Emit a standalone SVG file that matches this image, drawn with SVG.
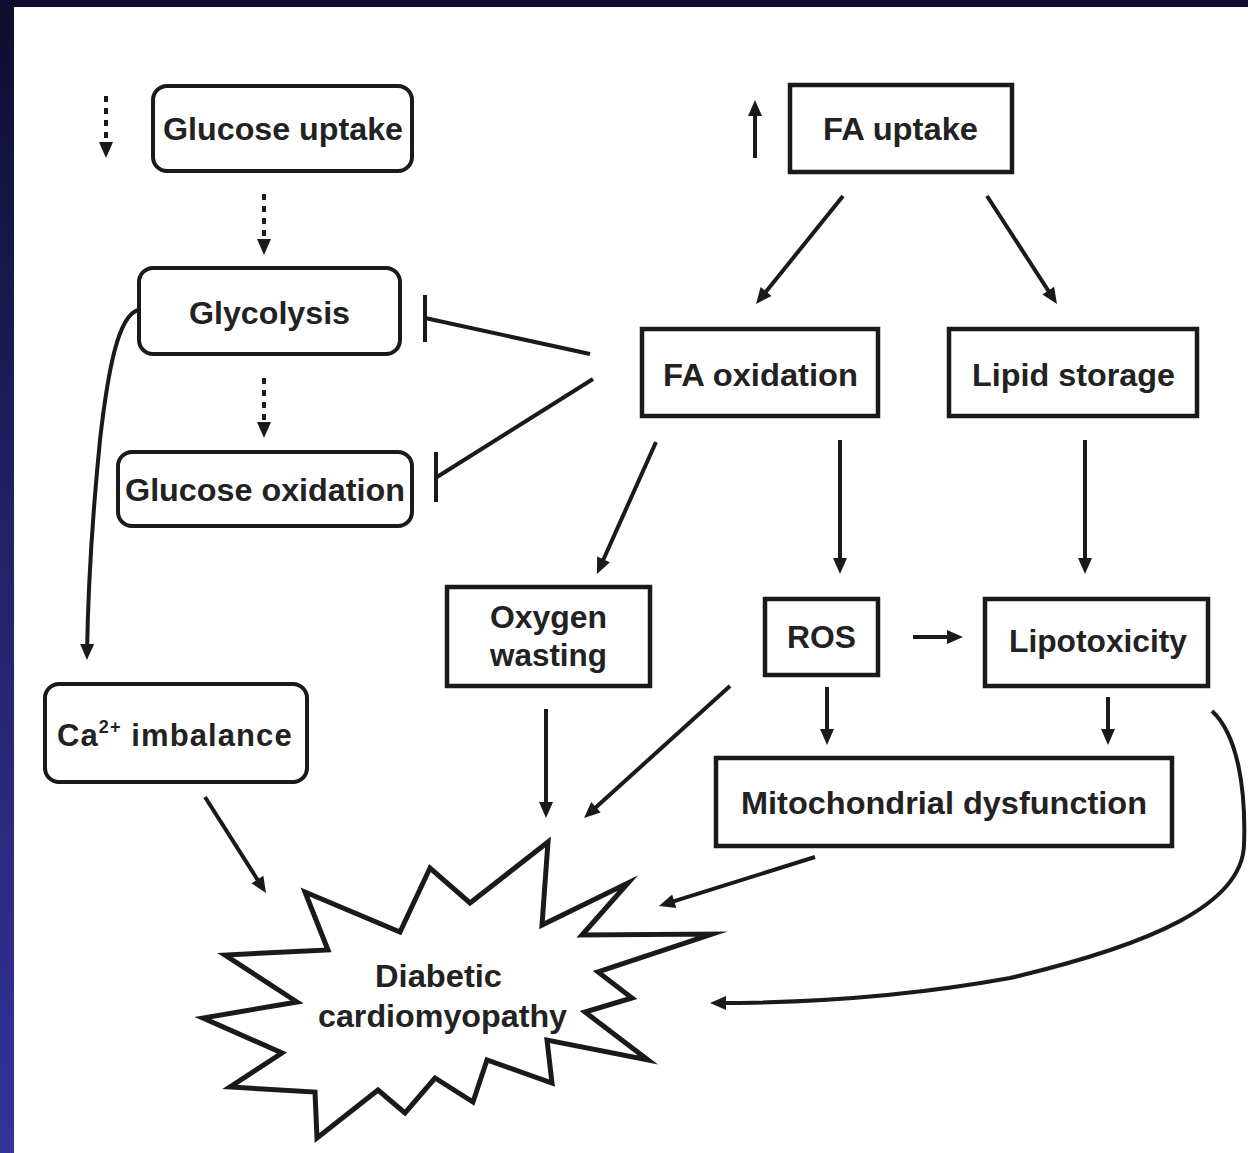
<svg xmlns="http://www.w3.org/2000/svg" width="1248" height="1153" viewBox="0 0 1248 1153">
<defs>
<linearGradient id="sideGrad" x1="0" y1="0" x2="0" y2="1">
<stop offset="0" stop-color="#0e0e30"/>
<stop offset="0.5" stop-color="#23236a"/>
<stop offset="1" stop-color="#333399"/>
</linearGradient>
<marker id="arrow" markerUnits="userSpaceOnUse" markerWidth="17" markerHeight="15" refX="10" refY="7" orient="auto" overflow="visible">
<path d="M0,0 L16,7 L0,14 z" fill="#1a1a1a"/>
</marker>
<style>
.box{fill:#fff;stroke:#1a1a1a;stroke-width:4.5}
.rbox{fill:#fff;stroke:#1a1a1a;stroke-width:4}
.lbl{font-family:"Liberation Sans",Arial,sans-serif;font-weight:bold;font-size:31px;fill:#222}
.conn{fill:none;stroke:#1a1a1a;stroke-width:4}
.dot{fill:none;stroke:#1a1a1a;stroke-width:4;stroke-dasharray:6 6}
</style>
</defs>
<rect x="0" y="0" width="1248" height="1153" fill="#fff"/>
<rect x="0" y="0" width="1248" height="7" fill="#0e0e30"/>
<rect x="0" y="0" width="14" height="1153" fill="url(#sideGrad)"/>

<g id="glucose-uptake">
<rect class="rbox" x="153" y="86" width="259" height="85" rx="14"/>
<text class="lbl" x="163" y="140" textLength="240" lengthAdjust="spacingAndGlyphs">Glucose uptake</text>
</g>
<g id="glycolysis">
<rect class="rbox" x="139" y="268" width="261" height="86" rx="14"/>
<text class="lbl" x="189" y="324" textLength="161" lengthAdjust="spacingAndGlyphs">Glycolysis</text>
</g>
<g id="glucose-oxidation">
<rect class="rbox" x="118" y="452" width="294" height="74" rx="14"/>
<text class="lbl" x="125" y="501" textLength="280" lengthAdjust="spacingAndGlyphs">Glucose oxidation</text>
</g>
<g id="ca-imbalance">
<rect class="rbox" x="45" y="684" width="262" height="98" rx="14"/>
<text class="lbl" x="57" y="746" letter-spacing="1.1">Ca<tspan font-size="18" dy="-13">2+</tspan><tspan dy="13"> imbalance</tspan></text>
</g>
<g id="fa-uptake">
<rect class="box" x="790" y="85" width="222" height="87"/>
<text class="lbl" x="823" y="140" textLength="155" lengthAdjust="spacingAndGlyphs">FA uptake</text>
</g>
<g id="fa-oxidation">
<rect class="box" x="642" y="329" width="236" height="87"/>
<text class="lbl" x="663" y="386" textLength="195" lengthAdjust="spacingAndGlyphs">FA oxidation</text>
</g>
<g id="lipid-storage">
<rect class="box" x="949" y="329" width="248" height="87"/>
<text class="lbl" x="972" y="386" textLength="203" lengthAdjust="spacingAndGlyphs">Lipid storage</text>
</g>
<g id="oxygen-wasting">
<rect class="box" x="447" y="587" width="203" height="99"/>
<text class="lbl" x="490" y="628" textLength="117" lengthAdjust="spacingAndGlyphs">Oxygen</text>
<text class="lbl" x="490" y="666" textLength="117" lengthAdjust="spacingAndGlyphs">wasting</text>
</g>
<g id="ros">
<rect class="box" x="765" y="599" width="113" height="76"/>
<text class="lbl" x="787" y="648" textLength="69" lengthAdjust="spacingAndGlyphs">ROS</text>
</g>
<g id="lipotoxicity">
<rect class="box" x="985" y="599" width="223" height="87"/>
<text class="lbl" x="1009" y="652" textLength="178" lengthAdjust="spacingAndGlyphs">Lipotoxicity</text>
</g>
<g id="mitochondrial-dysfunction">
<rect class="box" x="716" y="758" width="456" height="88"/>
<text class="lbl" x="741" y="814" textLength="406" lengthAdjust="spacingAndGlyphs">Mitochondrial dysfunction</text>
</g>
<g id="diabetic-cardiomyopathy">
<polygon fill="#fff" stroke="#1a1a1a" stroke-width="5" stroke-linejoin="miter" stroke-miterlimit="20" points="305,892 400,932 430,868 470,903 548,842 542,925 628,883 582,935 712,934 598,972 632,998 585,1012 648,1060 547,1040 552,1083 487,1060 473,1102 435,1078 405,1113 378,1090 317,1138 315,1092 230,1087 282,1053 203,1018 297,1002 225,955 328,950"/>
<text class="lbl" x="375" y="987" font-size="29" textLength="127" lengthAdjust="spacingAndGlyphs">Diabetic</text>
<text class="lbl" x="318" y="1027" font-size="29" textLength="249" lengthAdjust="spacingAndGlyphs">cardiomyopathy</text>
</g>

<g id="connectors">
<line class="dot" x1="106" y1="96" x2="106" y2="152" marker-end="url(#arrow)"/>
<line class="dot" x1="264" y1="194" x2="264" y2="249" marker-end="url(#arrow)"/>
<line class="dot" x1="264" y1="378" x2="264" y2="432" marker-end="url(#arrow)"/>
<line class="conn" x1="755" y1="158" x2="755" y2="106" marker-end="url(#arrow)"/>
<line class="conn" x1="843" y1="196" x2="759.8" y2="299.3" marker-end="url(#arrow)"/>
<line class="conn" x1="987" y1="196" x2="1053.7" y2="299" marker-end="url(#arrow)"/>
<line class="conn" x1="656" y1="442" x2="599.4" y2="568.5" marker-end="url(#arrow)"/>
<line class="conn" x1="840" y1="440" x2="840" y2="568" marker-end="url(#arrow)"/>
<line class="conn" x1="1085" y1="440" x2="1085" y2="568" marker-end="url(#arrow)"/>
<line class="conn" x1="913" y1="637" x2="957" y2="637" marker-end="url(#arrow)"/>
<line class="conn" x1="827" y1="687" x2="827" y2="739" marker-end="url(#arrow)"/>
<line class="conn" x1="1108" y1="697" x2="1108" y2="739" marker-end="url(#arrow)"/>
<line class="conn" x1="546" y1="709" x2="546" y2="812" marker-end="url(#arrow)"/>
<line class="conn" x1="730" y1="686" x2="588.5" y2="814" marker-end="url(#arrow)"/>
<line class="conn" x1="815" y1="857" x2="664.7" y2="904.2" marker-end="url(#arrow)"/>
<line class="conn" x1="205" y1="797" x2="262.8" y2="888" marker-end="url(#arrow)"/>
<path class="conn" d="M138,310 C118,316 108,370 100,440 C93,510 88,590 87,654" marker-end="url(#arrow)"/>
<path class="conn" d="M1212,711 C1238,735 1246,790 1244,845 C1242,905 1150,945 1010,978 C900,998 800,1003 716,1003" marker-end="url(#arrow)"/>
<line class="conn" x1="590" y1="354" x2="425" y2="318"/>
<line class="conn" x1="425" y1="295" x2="425" y2="342"/>
<line class="conn" x1="593" y1="379" x2="437" y2="477"/>
<line class="conn" x1="436" y1="452" x2="436" y2="502"/>
</g>
</svg>
